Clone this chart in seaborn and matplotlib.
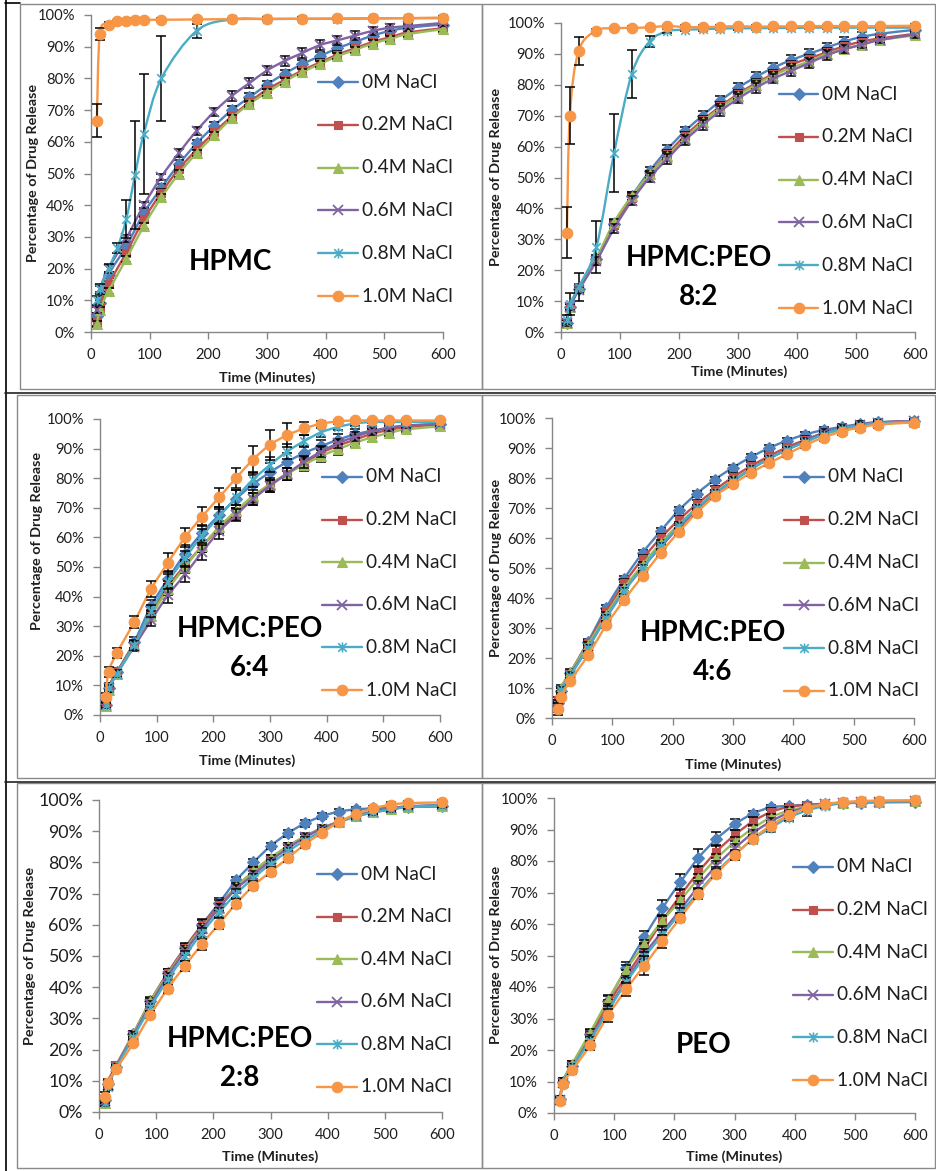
import numpy as np
import pandas as pd
import matplotlib
matplotlib.use("Agg")
import matplotlib.pyplot as plt
import seaborn as sns
from matplotlib.path import Path
from matplotlib.patches import PathPatch, Rectangle
from matplotlib.lines import Line2D
from matplotlib.ticker import FuncFormatter, MultipleLocator

# ---------------------------------------------------------------- data
SERIES = ["0M NaCl", "0.2M NaCl", "0.4M NaCl", "0.6M NaCl", "0.8M NaCl", "1.0M NaCl"]

T_STD = [10, 15, 30, 60, 90, 120, 150, 180, 210, 240, 270, 300, 330, 360, 390,
         420, 450, 480, 510, 540, 600]
T_FAST = [10, 15, 30, 45, 60, 75, 90, 120, 180, 240, 300, 360, 420, 480, 540, 600]

# HPMC
HPMC_00 = [5, 9, 18, 27, 37.5, 45.5, 53, 59.5, 65, 70, 74, 78, 81.5, 84.5, 87, 89.5, 91.5, 93.5, 95, 96, 97]
HPMC_02 = [3, 8, 15, 25, 35.5, 44, 51.5, 57.5, 63, 68, 72.5, 76.5, 79.5, 82.5, 85, 87.5, 89.5, 91.5, 93, 94.5, 95.8]
HPMC_04 = [2.5, 7, 13, 23, 33.5, 42.5, 50, 56.5, 62, 67.5, 72, 75.5, 79, 82, 84.5, 87, 89, 91, 92.5, 94, 95.5]
HPMC_06 = [7, 13.5, 20, 29.5, 40, 49, 56.5, 63.5, 69.5, 74.5, 78.5, 82.5, 85.5, 88, 90.5, 92, 93.5, 95, 96, 96.5, 97.5]
HPMC_08 = [10, 13.5, 20, 26.5, 35.5, 49.5, 62.5, 80, 95, 98.6, 98.7, 98.8, 98.8, 98.9, 99, 99]
HPMC_10 = [66.7, 94, 97, 98, 98.2, 98.5, 98.5, 98.5, 98.6, 98.7, 98.8, 98.8, 98.9, 99, 99, 99.2]
HPMC_00_SD = [1, 1, 1, 1, 1.2, 1.2, 1.2, 1.2, 1.2, 1.2, 1.3, 1.3, 1.3, 1.3, 1.3, 1.3, 1.2, 1.2, 1.2, 1, 1]
HPMC_02_SD = [1, 1, 1, 1, 1, 1, 1, 1, 1, 1, 1, 1, 1, 1, 1, 1, 1, 1, 1, 1, 0.8]
HPMC_04_SD = [1, 1, 1, 1, 1, 1, 1, 1, 1, 1, 1, 1, 1, 1, 1, 1, 1, 1, 1, 0.8, 0.8]
HPMC_06_SD = [1, 1, 1, 1, 1, 1, 1.2, 1.3, 1.3, 1.5, 1.5, 1.5, 1.5, 1.5, 1.5, 1.5, 1.3, 1.3, 1.2, 1, 1]
HPMC_08_SD = [1.5, 1.5, 1.5, 1.5, 6, 17, 19, 13.3, 2.3, 0.5, 0.5, 0.5, 0.5, 0.5, 0.5, 0.5]
HPMC_10_SD = [5.1, 2, 0.7, 0.5, 0.5, 0.5, 0.5, 0.5, 0.5, 0.5, 0.5, 0.5, 0.5, 0.5, 0.5, 0.5]

# HPMC:PEO 8:2
P82_00 = [3, 8, 14, 23.5, 35, 44, 52, 59, 65, 70, 74.8, 79, 82.5, 85.5, 88, 90, 92, 94, 95.5, 96.5, 97.8]
P82_02 = [3, 8, 14, 23, 34.5, 43.5, 51, 57.5, 63.5, 68.5, 73, 77, 80.5, 83.5, 86.5, 88.5, 90.5, 92.5, 94, 95, 96.5]
P82_04 = [3, 8, 14.5, 24, 35.5, 44, 51, 57, 62.5, 68, 72.5, 76.5, 80, 83, 85.5, 87.5, 90, 91.5, 93, 94.5, 96]
P82_06 = [3, 8, 13.5, 23, 33.5, 42.5, 50, 56, 62, 67, 71.5, 75.5, 79, 82, 84.5, 87, 89.5, 91.5, 93, 94.5, 96.3]
P82_08 = [4, 9, 14.5, 27.5, 58, 83.5, 94, 97.3, 97.8, 98, 98.2, 98.3, 98.3, 98.4, 98.4, 98.5, 98.5, 98.5, 98.5, 98.5, 98.5]
P82_10 = [32.2, 70, 91, 97.5, 98.3, 98.4, 98.6, 99, 98.7, 98.7, 98.8, 99, 98.8, 98.9, 98.9, 99, 99, 99, 98.9, 99, 99.1]
P82_00_SD = [1, 1, 1, 1.2, 1.3, 1.3, 1.3, 1.4, 1.4, 1.4, 1.5, 1.5, 1.5, 1.5, 1.5, 1.5, 1.5, 1.5, 1.5, 1.3, 1]
P82_02_SD = [1, 1, 1, 1.2, 1.2, 1.2, 1.2, 1.3, 1.3, 1.3, 1.3, 1.3, 1.3, 1.3, 1.3, 1.3, 1.3, 1.3, 1.2, 1, 1]
P82_04_SD = [1, 1, 1, 1, 1.2, 1.2, 1.2, 1.2, 1.2, 1.2, 1.2, 1.2, 1.2, 1.2, 1.2, 1.2, 1.2, 1.2, 1, 1, 1]
P82_06_SD = [1, 1, 1, 1.2, 1.3, 1.4, 1.4, 1.5, 1.5, 1.5, 1.5, 1.5, 1.5, 1.5, 1.5, 1.5, 1.5, 1.3, 1.2, 1, 1]
P82_08_SD = [1.5, 3.5, 4.6, 8.5, 12.7, 7.8, 1.9, 0.6, 0.5, 0.5, 0.5, 0.5, 0.5, 0.5, 0.5, 0.5, 0.5, 0.5, 0.5, 0.5, 0.5]
P82_10_SD = [8.2, 9.3, 4.5, 0.7, 0.5, 0.5, 0.5, 0.5, 0.5, 0.5, 0.5, 0.5, 0.5, 0.5, 0.5, 0.5, 0.5, 0.5, 0.5, 0.5, 0.5]

# HPMC:PEO 6:4
P64_00 = [3.5, 9, 14.5, 24.5, 36.8, 46, 54.5, 61.5, 67.5, 73, 78, 82, 85.5, 88.5, 90.8, 93, 94.8, 96, 97, 97.7, 98.3]
P64_02 = [4, 9.5, 14.5, 24, 34, 43.5, 50.5, 57, 63, 68, 73, 77.5, 81.5, 85, 88.5, 91, 93, 95, 96.3, 97.3, 98]
P64_04 = [3, 8.5, 14, 23.5, 33.5, 42.5, 50, 57, 63.5, 69, 74, 78, 81.5, 84.5, 87.5, 89.8, 92, 93.8, 95.3, 96.5, 97.5]
P64_06 = [3.5, 9, 14, 23, 32, 40.5, 47.5, 55, 62, 67.5, 73, 77.5, 81.5, 85.5, 89, 91.8, 94, 95.8, 97, 97.8, 98.3]
P64_08 = [3.5, 9, 14, 23.5, 35, 45, 53, 60.5, 67, 73.5, 79.5, 84.5, 89, 92.5, 95.5, 97.3, 98.5, 99, 99, 99, 99]
P64_10 = [6, 14.5, 21, 31.3, 42.5, 51.5, 60, 67, 73.5, 80, 86.3, 91.3, 94.5, 96.8, 98.4, 99.2, 99.5, 99.5, 99.5, 99.5, 99.5]
P64_00_SD = [1, 1.5, 1.5, 2, 2.2, 2.5, 2.8, 2.8, 2.8, 3, 3, 3, 3, 2.5, 2.2, 2, 1.8, 1.5, 1.2, 1, 0.8]
P64_02_SD = [1, 1.2, 1.2, 1.5, 1.5, 1.8, 2, 2, 2, 2, 2, 2, 2, 2, 2, 1.8, 1.5, 1.5, 1.2, 1, 0.8]
P64_04_SD = [1, 1.2, 1.2, 1.5, 1.5, 1.8, 2, 2, 2, 2, 2, 2, 2, 2, 2, 1.8, 1.5, 1.5, 1.2, 1, 0.8]
P64_06_SD = [1, 1.2, 1.2, 1.5, 2, 2.5, 2.5, 2.5, 2.5, 2, 2, 2, 2, 2, 1.8, 1.5, 1.5, 1.2, 1, 1, 0.8]
P64_08_SD = [1, 1.2, 1.2, 1.5, 2, 2.5, 2.5, 2.5, 2.5, 2.5, 2.5, 2.5, 2.5, 2, 1.5, 1, 0.8, 0.5, 0.5, 0.5, 0.5]
P64_10_SD = [1.5, 1.7, 1.8, 2, 2.8, 3.2, 3.3, 3.2, 3.2, 3.3, 4.5, 5, 4, 2.3, 1, 0.5, 0.5, 0.5, 0.5, 0.5, 0.5]

# HPMC:PEO 4:6
P46_00 = [5, 9, 15, 25.5, 36.8, 46.5, 55, 62.3, 69.2, 74.8, 79.5, 83.5, 87, 90, 92.5, 94.5, 96, 97, 98, 98.6, 99]
P46_02 = [6, 9.5, 15, 25, 35.5, 45, 53, 60, 66, 71.3, 76, 80.3, 84, 87.3, 90.3, 92.7, 95, 96.5, 97.7, 98.5, 99]
P46_04 = [4, 10, 15.3, 24.5, 34.5, 43.5, 51, 58.3, 64.5, 70, 75, 79.3, 83, 86.5, 89.5, 92, 94.5, 96, 97.3, 98.2, 98.8]
P46_06 = [4, 9, 14.5, 23.5, 33.5, 42.5, 50, 57, 63.5, 69, 74.5, 79, 83, 86.5, 89.5, 92.5, 95, 96.5, 97.8, 98.5, 99]
P46_08 = [4.5, 9.5, 14, 23.5, 33.5, 42.5, 50, 57.5, 64, 70, 75, 79, 83, 86.5, 89.5, 92, 94.5, 96.5, 97.5, 98.3, 98.8]
P46_10 = [3, 7, 12.3, 21, 31, 39.5, 47.3, 55, 62, 68.5, 74, 78, 81.8, 85, 88, 91, 93.5, 95.5, 96.8, 97.8, 98.5]
P46_00_SD = [1, 1, 1, 1, 1, 1, 1, 1, 1, 1, 1, 1, 1, 1, 1, 1, 1, 1, 1, 1, 0.8]
P46_02_SD = [1, 1, 1, 1, 1, 1.2, 1.2, 1.2, 1.3, 1.3, 1.3, 1.3, 1.3, 1.2, 1.2, 1.2, 1.2, 1.2, 1.2, 1, 0.8]
P46_04_SD = [1, 1, 1, 1, 1, 1, 1, 1, 1, 1, 1, 1, 1, 1, 1, 1, 1, 1, 1, 1, 0.8]
P46_06_SD = [2, 1, 1, 1, 1, 1, 1, 1, 1, 1, 1, 1, 1, 1, 1, 1, 1, 1, 1, 1, 0.8]
P46_08_SD = [1, 1, 1, 1, 1, 1, 1, 1, 1, 1, 1, 1, 1, 1, 1, 1, 1, 1, 1, 1, 0.8]
P46_10_SD = [2, 1, 1, 1, 1, 1, 1, 1, 1, 1, 1, 1, 1, 1, 1, 1, 1, 1, 1, 1, 0.8]

# HPMC:PEO 2:8
P28_00 = [4, 9, 14.5, 25, 35.5, 44.5, 52.5, 60, 67, 74.2, 80, 85.2, 89.3, 92.5, 94.8, 96.3, 97, 97.3, 97.5, 97.8, 98]
P28_02 = [4, 9.5, 15, 25, 35.5, 44.5, 52.5, 59.8, 66.3, 72, 77, 81.2, 85, 88.3, 91, 93, 94.8, 96, 97, 97.7, 98]
P28_04 = [3, 8.5, 14.5, 25, 35.5, 44, 52, 59, 65.5, 72, 77.2, 81.5, 85.2, 88.2, 91, 93, 95, 96.3, 97.2, 97.8, 98.2]
P28_06 = [3.5, 8.5, 14.5, 24.5, 34.5, 43.5, 51.5, 58.5, 65.5, 71.5, 76, 80.5, 84.5, 88, 90.8, 93, 95, 96.3, 97.3, 98, 98.4]
P28_08 = [3, 8, 14, 24, 33.5, 42.5, 50, 57.5, 64, 70, 75, 79.5, 83.5, 87, 90, 92.8, 94.8, 96, 97, 97.8, 98.3]
P28_10 = [4.8, 9.3, 13.8, 22, 31.2, 39.5, 46.8, 53.8, 60.3, 66.8, 72.5, 77, 81.3, 85.8, 89.5, 93, 95.5, 97.3, 98.5, 99, 99.2]
P28_00_SD = [1, 1, 1, 1, 1, 1.2, 1.5, 1.5, 1.5, 1.2, 1, 1, 1, 1, 1, 0.8, 0.8, 0.8, 0.8, 0.8, 0.8]
P28_02_SD = [1, 1, 1, 1, 1.2, 1.2, 1.8, 2, 1.8, 1.5, 1.5, 1.2, 1.2, 1, 1, 1, 1, 0.8, 0.8, 0.8, 0.8]
P28_04_SD = [1, 1, 1, 1, 1, 1, 1.2, 1.2, 1.2, 1.2, 1.2, 1, 1, 1, 1, 1, 1, 0.8, 0.8, 0.8, 0.8]
P28_06_SD = [1, 1, 1, 1, 1, 1.2, 1.2, 1.2, 1.2, 1.2, 1.2, 1, 1, 1, 1, 1, 1, 0.8, 0.8, 0.8, 0.8]
P28_08_SD = [1, 1, 1, 1, 1, 1.2, 1.5, 1.5, 1.5, 1.5, 1.3, 1.2, 1.2, 1, 1, 1, 1, 0.8, 0.8, 0.8, 0.8]
P28_10_SD = [1.5, 1, 1, 1, 1.2, 1.2, 1.5, 1.8, 1.8, 1.5, 1.5, 1.5, 1.2, 1.2, 1, 1, 1, 0.8, 0.8, 0.8, 0.8]

# PEO
PEO_00 = [4.5, 10, 15, 25, 35.5, 46, 55.8, 65, 73.3, 81, 87, 91.6, 95, 97, 97.5, 97.8, 98, 98.3, 98.5, 98.6, 98.7]
PEO_02 = [4, 10, 15.5, 24.5, 34.5, 43.5, 52, 61, 69, 76.5, 83, 88.2, 92.5, 95.5, 97.2, 97.8, 98.2, 98.5, 98.8, 98.8, 99]
PEO_04 = [4.5, 10, 15.5, 25.5, 36, 45.5, 53.5, 61, 67.5, 74.5, 80.8, 86, 90.3, 93.8, 96, 97.2, 98, 98.5, 98.7, 98.8, 99]
PEO_06 = [4, 9.5, 14.5, 23.5, 33, 42, 50.5, 57.5, 64.5, 72, 78.5, 84, 88.8, 92.5, 95.3, 97, 98, 98.5, 98.7, 98.8, 99]
PEO_08 = [4, 9.5, 14.5, 23, 32.5, 41.5, 49.5, 56.5, 63.5, 70, 76.5, 82, 86.8, 90.5, 93.8, 96, 97.5, 98.3, 98.7, 98.8, 99]
PEO_10 = [3.8, 9.2, 13.5, 21.5, 31, 39.3, 46.8, 54.5, 62, 69.5, 76, 81.8, 87, 91.2, 94.5, 96.8, 98, 98.7, 99, 99.2, 99.3]
PEO_00_SD = [1, 1, 1, 1.2, 1.5, 1.8, 2, 2.5, 2.6, 2.8, 2.2, 1.6, 1, 0.8, 0.6, 0.5, 0.5, 0.5, 0.5, 0.5, 0.5]
PEO_02_SD = [1, 1, 1, 1.2, 1.5, 1.8, 2, 2, 2, 2, 2, 1.8, 1.5, 1.2, 1, 0.8, 0.5, 0.5, 0.5, 0.5, 0.5]
PEO_04_SD = [1, 1, 1, 1.2, 1.5, 1.5, 1.5, 1.5, 1.5, 1.5, 1.5, 1.5, 1.2, 1, 1, 0.8, 0.5, 0.5, 0.5, 0.5, 0.5]
PEO_06_SD = [1, 1, 1, 1.2, 1.5, 1.5, 1.5, 1.8, 1.8, 1.5, 1.5, 1.5, 1.2, 1.2, 1, 0.8, 0.5, 0.5, 0.5, 0.5, 0.5]
PEO_08_SD = [1, 1, 1, 1.2, 1.5, 1.5, 1.5, 1.5, 1.5, 1.5, 1.5, 1.5, 1.2, 1.2, 1.2, 1.7, 0.8, 0.5, 0.5, 0.5, 0.5]
PEO_10_SD = [1, 1, 1.2, 1.5, 2, 2, 3, 2, 1.5, 1.5, 1.5, 1.5, 1.2, 1, 1, 0.8, 0.5, 0.5, 0.5, 0.5, 0.5]

# ---------------------------------------------------------------- styles
COLORS = ["#4F81BD", "#C0504D", "#9BBB59", "#8064A2", "#4BACC6", "#F79646"]
ASTERISK = Path([(0, -1), (0, 1), (-0.85, -0.85), (0.85, 0.85), (-0.85, 0.85), (0.85, -0.85)],
                [Path.MOVETO, Path.LINETO, Path.MOVETO, Path.LINETO, Path.MOVETO, Path.LINETO])
MARKERS = ["D", "s", "^", "x", ASTERISK, "o"]
MSIZES = [6.2, 6.3, 7.0, 6.8, 7.2, 7.6]
MEW = [0.8, 0.8, 0.8, 1.3, 1.2, 0.8]
GRAY = "#868686"
TEXT = "#1e1e1e"

W, H = 936, 1171

sns.set_theme(style="white")
plt.rcParams["font.family"] = ["Lato", "DejaVu Sans"]

fig = plt.figure(figsize=(W / 100, H / 100), dpi=100)
fig.patch.set_facecolor("white")


def fx(x):
    return x / W


def fy(y):
    return 1 - y / H


def smooth_path(t, y):
    """Cubic Bezier path through the points (Catmull-Rom style tangents)."""
    pts = np.column_stack([t, y]).astype(float)
    n = len(pts)
    verts = [pts[0]]
    codes = [Path.MOVETO]
    for i in range(n - 1):
        p0 = pts[i - 1] if i > 0 else pts[i]
        p1, p2 = pts[i], pts[i + 1]
        p3 = pts[i + 2] if i + 2 < n else p2
        verts += [p1 + (p2 - p0) / 6.0, p2 - (p3 - p1) / 6.0, p2]
        codes += [Path.CURVE4] * 3
    return Path(verts, codes)


# axes box (x at 0, x at 600, y at 100%, y at 0%) in pixels; label centres; title
PANELS = [
    dict(box=(91, 443, 15, 332), ylab=(33, 173), xlab=(267, 378), ysize=10.6,
         title=["HPMC"], tpos=(230, 262), leg=(318, 358, 82, 42.8),
         series=[(T_STD, HPMC_00, HPMC_00_SD), (T_STD, HPMC_02, HPMC_02_SD),
                 (T_STD, HPMC_04, HPMC_04_SD), (T_STD, HPMC_06, HPMC_06_SD),
                 (T_FAST, HPMC_08, HPMC_08_SD), (T_FAST, HPMC_10, HPMC_10_SD)]),
    dict(box=(561, 915, 23, 332), ylab=(496, 177), xlab=(739, 372), ysize=10.6,
         title=["HPMC:PEO", "8:2"], tpos=(699, 258), leg=(779, 818, 94, 42.8),
         series=[(T_STD, P82_00, P82_00_SD), (T_STD, P82_02, P82_02_SD),
                 (T_STD, P82_04, P82_04_SD), (T_STD, P82_06, P82_06_SD),
                 (T_STD, P82_08, P82_08_SD), (T_STD, P82_10, P82_10_SD)]),
    dict(box=(100, 440, 419, 715), ylab=(37, 541), xlab=(247, 761), ysize=10.6,
         title=["HPMC:PEO", "6:4"], tpos=(250, 629), leg=(322, 362, 477, 42.6),
         series=[(T_STD, P64_00, P64_00_SD), (T_STD, P64_02, P64_02_SD),
                 (T_STD, P64_04, P64_04_SD), (T_STD, P64_06, P64_06_SD),
                 (T_STD, P64_08, P64_08_SD), (T_STD, P64_10, P64_10_SD)]),
    dict(box=(552, 914, 418, 718), ylab=(496, 568), xlab=(733, 765), ysize=10.6,
         title=["HPMC:PEO", "4:6"], tpos=(713, 633), leg=(784, 824, 477, 42.8),
         series=[(T_STD, P46_00, P46_00_SD), (T_STD, P46_02, P46_02_SD),
                 (T_STD, P46_04, P46_04_SD), (T_STD, P46_06, P46_06_SD),
                 (T_STD, P46_08, P46_08_SD), (T_STD, P46_10, P46_10_SD)]),
    dict(box=(99, 442, 800, 1112), ylab=(30, 956), xlab=(270, 1157), ysize=12.8,
         title=["HPMC:PEO", "2:8"], tpos=(240, 1039), leg=(317, 357, 874, 42.6),
         series=[(T_STD, P28_00, P28_00_SD), (T_STD, P28_02, P28_02_SD),
                 (T_STD, P28_04, P28_04_SD), (T_STD, P28_06, P28_06_SD),
                 (T_STD, P28_08, P28_08_SD), (T_STD, P28_10, P28_10_SD)]),
    dict(box=(554, 915, 798, 1113), ylab=(496, 955), xlab=(734, 1157), ysize=10.6,
         title=["PEO"], tpos=(704, 1045), leg=(793, 833, 867, 42.6),
         series=[(T_STD, PEO_00, PEO_00_SD), (T_STD, PEO_02, PEO_02_SD),
                 (T_STD, PEO_04, PEO_04_SD), (T_STD, PEO_06, PEO_06_SD),
                 (T_STD, PEO_08, PEO_08_SD), (T_STD, PEO_10, PEO_10_SD)]),
]

# chart frames (x0, y0, x1, y1) in pixels
FRAMES = [(20, 4, 482, 389), (482, 4, 935, 389),
          (17, 395, 482, 778), (482, 395, 935, 778),
          (17, 783, 482, 1168), (482, 783, 935, 1168)]

for (x0, y0, x1, y1) in FRAMES:
    fig.add_artist(Rectangle((fx(x0), fy(y1)), fx(x1 - x0), (y1 - y0) / H,
                             transform=fig.transFigure, fill=False,
                             edgecolor="#8a8a8a", lw=1.0))
# table rules
fig.add_artist(Line2D([fx(5.5), fx(5.5)], [0, 1], transform=fig.transFigure, color="black", lw=1.2))
for yy in (392.5, 781.5):
    fig.add_artist(Line2D([fx(5), 1], [fy(yy), fy(yy)], transform=fig.transFigure, color="#222222", lw=1.2))
fig.add_artist(Line2D([fx(5), fx(20)], [fy(2.5), fy(2.5)], transform=fig.transFigure, color="black", lw=1.2))

for p in PANELS:
    xa, xb, yt, yb = p["box"]
    ax = fig.add_axes([fx(xa), fy(yb), (xb - xa) / W, (yb - yt) / H])
    ax.patch.set_alpha(0)

    for k, (t, y, sd) in enumerate(p["series"]):
        color = COLORS[k]
        z = 3 + k
        ax.add_patch(PathPatch(smooth_path(t, y), fill=False, edgecolor=color,
                               lw=1.7, zorder=z, clip_on=False))
        eb = ax.errorbar(t, y, yerr=sd, fmt="none", ecolor="black", elinewidth=1.1,
                         capsize=3.5, capthick=1.1, zorder=z + 0.1)
        for art in eb.lines[1] + eb.lines[2]:
            art.set_clip_on(False)
        df = pd.DataFrame({"Time": t, "Release": y})
        sns.lineplot(data=df, x="Time", y="Release", ax=ax, estimator=None, sort=False,
                     errorbar=None, linestyle="none", marker=MARKERS[k],
                     markersize=MSIZES[k], color=color, markeredgecolor=color,
                     markerfacecolor=color, markeredgewidth=MEW[k],
                     zorder=z + 0.2, clip_on=False)

    ax.set_xlim(0, 600)
    ax.set_ylim(0, 100)
    ax.xaxis.set_major_locator(MultipleLocator(100))
    ax.yaxis.set_major_locator(MultipleLocator(10))
    ax.yaxis.set_major_formatter(FuncFormatter(lambda v, _: f"{v:.0f}%"))
    for s in ("top", "right"):
        ax.spines[s].set_visible(False)
    for s in ("left", "bottom"):
        ax.spines[s].set_color(GRAY)
        ax.spines[s].set_linewidth(1.0)
    ax.tick_params(axis="both", which="major", direction="out", length=5, width=1,
                   color=GRAY, labelcolor=TEXT, pad=6.5, bottom=True, left=True)
    ax.tick_params(axis="x", labelsize=10.6)
    ax.tick_params(axis="y", labelsize=p["ysize"])

    ax.set_xlabel("Time (Minutes)", fontsize=10.4, fontweight="bold", color=TEXT)
    ax.set_ylabel("Percentage of Drug Release", fontsize=10.4, fontweight="bold", color=TEXT)
    lx, ly = p["xlab"]
    ax.xaxis.set_label_coords((lx - xa) / (xb - xa), (yb - ly) / (yb - yt))
    ax.xaxis.label.set_va("center")
    lx, ly = p["ylab"]
    ax.yaxis.set_label_coords((lx - xa) / (xb - xa), (yb - ly) / (yb - yt))
    ax.yaxis.label.set_va("center")

    # panel name
    tx, ty = p["tpos"]
    for i, line in enumerate(p["title"]):
        fig.text(fx(tx), fy(ty + 39 * i), line, ha="center", va="center",
                 fontsize=20, fontweight="bold", color="black")

    # legend
    lx0, lx1, ly0, dy = p["leg"]
    for k, name in enumerate(SERIES):
        yy = fy(ly0 + dy * k)
        fig.add_artist(Line2D([fx(lx0), fx(lx1)], [yy, yy], transform=fig.transFigure,
                              color=COLORS[k], lw=1.7))
        fig.add_artist(Line2D([fx((lx0 + lx1) / 2)], [yy], transform=fig.transFigure,
                              linestyle="none", marker=MARKERS[k], markersize=MSIZES[k],
                              color=COLORS[k], markeredgecolor=COLORS[k],
                              markerfacecolor=COLORS[k], markeredgewidth=MEW[k]))
        fig.text(fx(lx1 + 4), yy, name, ha="left", va="center", fontsize=13.8, color=TEXT)

fig.savefig("out.png", dpi=100, facecolor="white")
